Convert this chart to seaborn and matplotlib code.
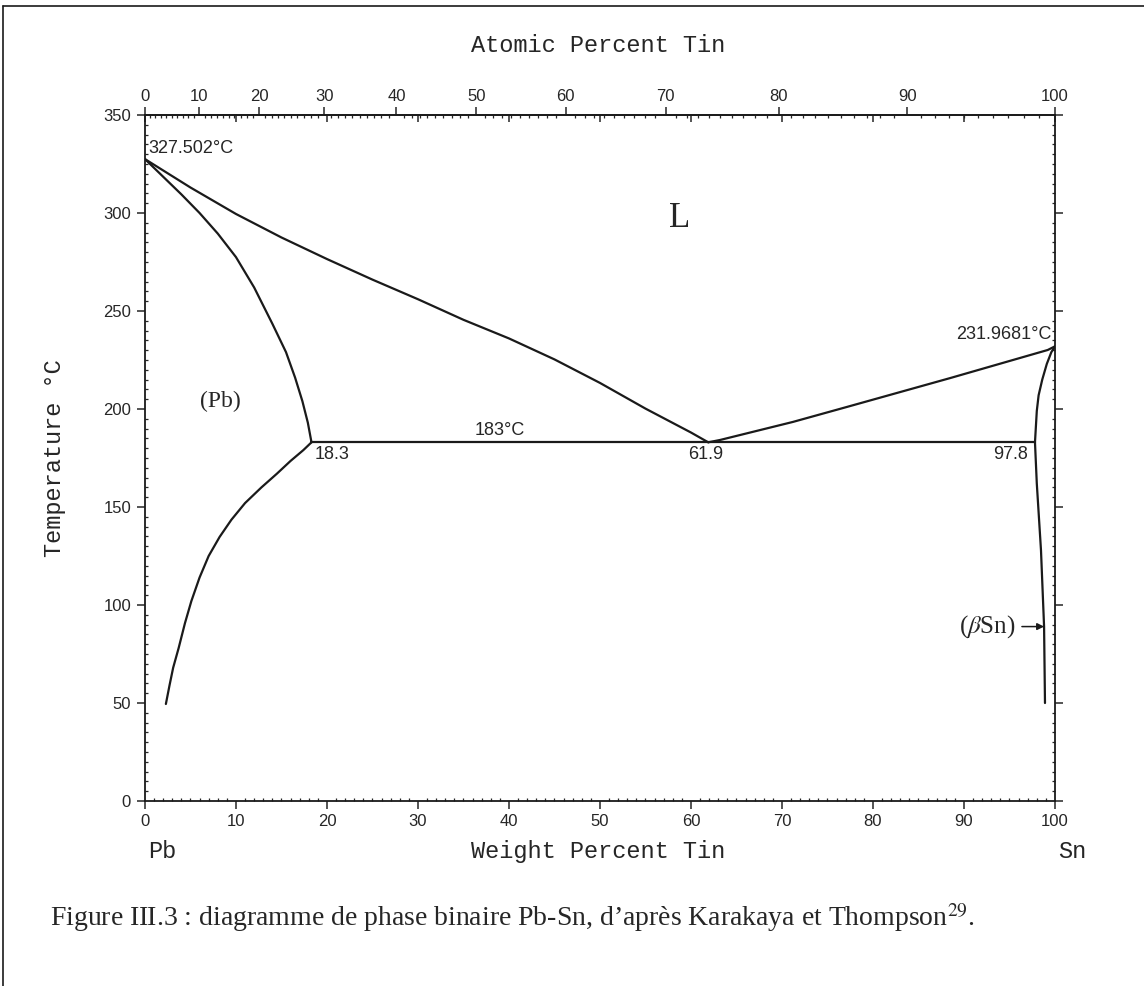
import numpy as np
import seaborn as sns
import matplotlib.pyplot as plt
from matplotlib.lines import Line2D
from matplotlib.ticker import MultipleLocator

# -------------------------------------------------
# DATA (wt% Sn / degC)
# -------------------------------------------------

liq_pb_wt = [0, 5, 10, 15, 20, 25, 30, 35, 40, 45, 50, 55, 60, 61.9]
liq_pb_T = [327.502, 313, 299.5, 287.5, 276.5, 266, 256, 245.5, 236, 225.3, 213.3, 200.2, 188, 183]

liq_sn_wt = [61.9, 63.2, 71.2, 77.1, 88.5, 99.2, 100]
liq_sn_T = [183, 184.2, 193.4, 201, 215.8, 230.1, 231.9681]

sol_pb_wt = [0, 2, 4, 6, 8, 10, 12, 14, 15.5, 16.5, 17.3, 17.9, 18.3]
sol_pb_T = [327.502, 318.5, 309.5, 300, 289.5, 277.5, 262, 243.5, 229, 216, 204, 193, 183]

solv_pb_wt = [18.3, 17.4, 16, 14.5, 12.8, 11, 9.5, 8.2, 7, 6, 5.1, 4.4, 3.7, 3.1, 2.7, 2.3]
solv_pb_T = [183, 179, 173.5, 167, 160, 152, 143.5, 134.7, 125, 114, 102, 90.8, 78, 68, 59, 49.5]

sol_sn_wt = [100, 99.6, 99.1, 98.6, 98.2, 98.0, 97.9, 97.8]
sol_sn_T = [231.9681, 229, 223, 215, 207, 199, 191, 183]

solv_sn_wt = [97.8, 98.0, 98.46, 98.8, 98.9]
solv_sn_T = [183, 162, 128, 89, 50]

eut_wt = [18.3, 97.8]
eut_T = [183, 183]

weight_ticks = list(range(0, 101, 10))
atomic_ticks = list(range(0, 101, 10))

M_SN = 118.71
M_PB = 207.2


def wt_to_at(w):
    w = np.asarray(w, dtype=float)
    with np.errstate(divide="ignore", invalid="ignore"):
        return 100 * (w / M_SN) / (w / M_SN + (100 - w) / M_PB)


def at_to_wt(a):
    a = np.asarray(a, dtype=float)
    with np.errstate(divide="ignore", invalid="ignore"):
        return 100 * a * M_SN / (a * M_SN + (100 - a) * M_PB)


# -------------------------------------------------
# STYLE
# -------------------------------------------------

sns.set_style("ticks")
plt.rcParams["font.family"] = ["Liberation Sans", "DejaVu Sans"]
plt.rcParams["mathtext.fontset"] = "stix"

MONO = "Liberation Mono"
SERIF = "Liberation Serif"

fig = plt.figure(figsize=(11.44, 9.86), dpi=100)
ax = fig.add_axes([0.1267, 0.1876, 0.7955, 0.6958])

curves = [
    (liq_pb_wt, liq_pb_T),
    (liq_sn_wt, liq_sn_T),
    (sol_pb_wt, sol_pb_T),
    (solv_pb_wt, solv_pb_T),
    (sol_sn_wt, sol_sn_T),
    (solv_sn_wt, solv_sn_T),
    (eut_wt, eut_T),
]
for xs, ys in curves:
    sns.lineplot(x=xs, y=ys, sort=False, estimator=None, color="#1a1a1a",
                 linewidth=1.6, ax=ax)

ax.set_xlim(0, 100)
ax.set_ylim(0, 350)
for s in ax.spines.values():
    s.set_linewidth(1.3)
    s.set_color("#1a1a1a")

# bottom axis: weight percent
ax.set_xticks(weight_ticks)
ax.xaxis.set_minor_locator(MultipleLocator(1))
ax.tick_params(axis="x", which="major", direction="out", length=6, width=1.1,
               labelsize=12, pad=3, top=False)
ax.tick_params(axis="x", which="minor", direction="in", length=2.5, width=0.9, top=False)

# y axis both sides
ax.set_yticks(range(0, 351, 50))
ax.yaxis.set_minor_locator(MultipleLocator(5))
ax.tick_params(axis="y", which="major", direction="out", length=6, width=1.1,
               labelsize=12, pad=4, left=True, right=True)
ax.tick_params(axis="y", which="minor", direction="in", length=2.5, width=0.9,
               left=True, right=True)

# top axis: atomic percent
secax = ax.secondary_xaxis("top", functions=(wt_to_at, at_to_wt))
secax.set_xticks(atomic_ticks)
secax.xaxis.set_minor_locator(MultipleLocator(1))
secax.tick_params(which="major", direction="out", length=6, width=1.1, labelsize=12, pad=2)
secax.tick_params(which="minor", direction="in", length=2.5, width=0.9)
secax.spines["top"].set_linewidth(1.3)

# mirrored weight ticks on top, pointing inwards
mirror = ax.secondary_xaxis("top")
mirror.set_xticks(weight_ticks)
mirror.set_xticklabels([])
mirror.tick_params(which="major", direction="in", length=5, width=1.1)
mirror.tick_params(which="minor", length=0)
mirror.spines["top"].set_visible(False)

ax.set_xlabel("")
ax.set_ylabel("")

# -------------------------------------------------
# LABELS
# -------------------------------------------------

ax.text(0.4, 328.8, "327.502\u00b0C", fontsize=13, ha="left", va="bottom")
ax.text(99.6, 233.5, "231.9681\u00b0C", fontsize=13, ha="right", va="bottom")
ax.text(39, 184.5, "183\u00b0C", fontsize=13, ha="center", va="bottom")
ax.text(18.6, 181, "18.3", fontsize=13, ha="left", va="top")
ax.text(61.6, 181, "61.9", fontsize=13, ha="center", va="top")
ax.text(97.0, 181, "97.8", fontsize=13, ha="right", va="top")

ax.text(58.8, 297, "L", fontsize=25, family=SERIF, ha="center", va="center")
ax.text(8.3, 204, "(Pb)", fontsize=17, family=SERIF, ha="center", va="center")
ax.annotate("($\\beta$Sn)", xy=(98.8, 89), xytext=(95.7, 89),
            fontsize=18, family=SERIF, ha="right", va="center",
            arrowprops=dict(arrowstyle="-|>", color="#1a1a1a", lw=1.1,
                            shrinkA=2, shrinkB=0, mutation_scale=10))

fig.text(0.5227, 0.954, "Atomic Percent Tin", family=MONO, fontsize=17,
         ha="center", va="center")
fig.text(0.5227, 0.136, "Weight Percent Tin", family=MONO, fontsize=17,
         ha="center", va="center")
fig.text(0.048, 0.535, "Temperature \u00b0C", family=MONO, fontsize=17,
         rotation=90, ha="center", va="center")
fig.text(0.1416, 0.136, "Pb", family=MONO, fontsize=17, ha="center", va="center")
fig.text(0.937, 0.136, "Sn", family=MONO, fontsize=17, ha="center", va="center")

fig.text(0.044, 0.069,
         "Figure III.3 : diagramme de phase binaire Pb-Sn, d\u2019apr\u00e8s Karakaya et Thompson$^{29}$.",
         family=SERIF, fontsize=20, ha="left", va="center")

# frame of the figure box (left and top edges)
fig.add_artist(Line2D([0.003, 0.003], [0.0, 0.994], transform=fig.transFigure,
                      color="#1a1a1a", lw=1.2))
fig.add_artist(Line2D([0.003, 1.0], [0.994, 0.994], transform=fig.transFigure,
                      color="#1a1a1a", lw=1.2))

fig.savefig("out.png", dpi=100, facecolor="white")
plt.close(fig)
